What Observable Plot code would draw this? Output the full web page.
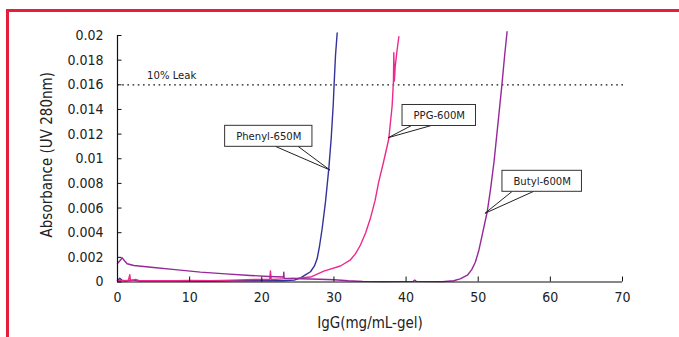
<!DOCTYPE html>
<html>
<head>
<meta charset="utf-8">
<script src="https://cdn.jsdelivr.net/npm/d3@7"></script>
<script src="https://cdn.jsdelivr.net/npm/@observablehq/plot@0.6"></script>
<style>
  html, body { margin: 0; padding: 0; background: #fff; }
  #wrap { position: relative; width: 679px; height: 337px; overflow: hidden; }
  #frame { position: absolute; left: 6px; top: 9px; width: 700px; height: 400px;
           border-top: 3px solid #e61e3c; border-left: 3px solid #e61e3c; box-sizing: border-box; pointer-events: none; }
  svg { display: block; }
</style>
</head>
<body>
<div id="wrap"><div id="frame"></div></div>
<script>
const FONT = '"Liberation Sans Narrow", "DejaVu Sans Condensed", "Roboto Condensed", sans-serif';

// ---- axes / tick labels ----
const xTicks = [0, 10, 20, 30, 40, 50, 60, 70];
const yTicks = [0, 0.002, 0.004, 0.006, 0.008, 0.01, 0.012, 0.014, 0.016, 0.018, 0.02];
const yTickLabels = ["0", "0.002", "0.004", "0.006", "0.008", "0.01", "0.012", "0.014", "0.016", "0.018", "0.02"];
const xTitle = "IgG(mg/mL-gel)";
const yTitle = "Absorbance (UV 280nm)";

// ---- 10% leak reference ----
const leakLevel = 0.016;
const leakLabel = ["10% Leak"];
const leakLabelX = [4.1];
const leakLabelY = [0.0168];

// ---- series: Phenyl-650M (blue) ----
const phenylX = [0, 0.3, 0.6, 1, 2, 3, 5, 8, 12, 16, 20, 23, 24.5, 25.37, 26.1, 26.75, 27.3, 27.68, 28.0, 28.37, 28.83, 29.29, 29.62, 29.9, 30.03, 30.22, 30.45];
const phenylY = [0.0001, 0.0003, 0.00015, 0.0001, 0.00015, 0.0001, 0.0001, 0.0001, 0.00005, 0.0001, 0.0001, 0.0001, 0.00015, 0.00034, 0.0006, 0.00083, 0.0013, 0.0019, 0.0029, 0.00434, 0.0065, 0.0092, 0.01164, 0.01434, 0.0161, 0.0184, 0.0202];

// ---- series: PPG-600M (pink) ----
const ppgX = [0, 1.5, 1.7, 1.8, 2.5, 3, 5, 8, 10, 13, 16, 19, 21.1, 21.2, 21.3, 23, 25, 26.75, 28.6, 30.9, 32.3, 33.0, 33.68, 34.4, 35.07, 35.7, 36.2, 36.9, 37.6, 38.07, 38.25, 38.3, 38.38, 38.5, 38.75, 39.0];
const ppgY = [0.0001, 0.0001, 0.0006, 0.0001, 0.0002, 0.0001, 0.0001, 0.0001, 0.00012, 0.0001, 0.00015, 0.0002, 0.0002, 0.0009, 0.0002, 0.00025, 0.0003, 0.0004, 0.00088, 0.0013, 0.0018, 0.0023, 0.003, 0.004, 0.0052, 0.0066, 0.0081, 0.0098, 0.0116, 0.0143, 0.0163, 0.0186, 0.0163, 0.0175, 0.0188, 0.0199];

// ---- series: Butyl-600M (purple) ----
const butylX = [0, 0.3, 0.65, 1.0, 1.34, 2.26, 5, 8, 11.5, 15, 18.4, 21, 23, 23.05, 23.1, 25.4, 28, 30, 32, 34, 37, 41, 41.2, 41.4, 45, 46.6, 47.5, 48.5, 49.1, 49.6, 50.1, 50.55, 51.25, 51.7, 52.2, 52.85, 53.3, 53.65, 54.0];
const butylY = [0.0015, 0.0017, 0.00196, 0.0017, 0.00148, 0.00134, 0.00118, 0.001, 0.0008, 0.00066, 0.00053, 0.00045, 0.0004, 0.0008, 0.0003, 0.00026, 0.00022, 0.00018, 0.0001, 0.00005, 0.00003, 0.00005, 0.00015, 0.00005, 0.00003, 0.0001, 0.00025, 0.00055, 0.001, 0.0016, 0.0026, 0.0038, 0.0057, 0.0075, 0.0098, 0.0135, 0.0161, 0.0183, 0.0203];

// ---- callouts ----
const calloutLabels = ["Phenyl-650M", "PPG-600M", "Butyl-600M"];
const calloutTextX = [20.97, 44.6, 58.87];
const calloutTextY = [0.01182, 0.01351, 0.00817];
const calloutPointX = [29.5, 37.6, 51.0];
const calloutPointY = [0.00905, 0.01167, 0.00553];

const seriesColors = ["#34339a", "#ec2a8c", "#96289a"];

const toRows = (xs, ys) => xs.map((x, i) => ({x, y: ys[i]}));
const callouts = calloutLabels.map((label, i) => ({label, x: calloutTextX[i], y: calloutTextY[i], px: calloutPointX[i], py: calloutPointY[i]}));

const W = 679, H = 337, ML = 117, MR = 57, MT = 35, MB = 55.5;
const plotW = W - ML - MR, plotH = H - MT - MB;

const chart = Plot.plot({
  width: W, height: H,
  marginLeft: ML, marginRight: MR, marginTop: MT, marginBottom: MB,
  style: {fontFamily: FONT, fontSize: "14px", color: "#222", background: "transparent", overflow: "visible"},
  x: {domain: [0, 70]},
  y: {domain: [0, 0.02]},
  marks: [
    Plot.ruleY([leakLevel], {x1: 0, x2: 70.4, stroke: "#111", strokeWidth: 1.3, strokeDasharray: "1.6,3.6"}),
    Plot.text(leakLabel, {x: (d, i) => leakLabelX[i], y: (d, i) => leakLabelY[i], text: d => d, textAnchor: "start", fontSize: 11.2, fill: "#222"}),
    Plot.line(toRows(phenylX, phenylY), {x: "x", y: "y", stroke: seriesColors[0], strokeWidth: 1.4}),
    Plot.line(toRows(ppgX, ppgY), {x: "x", y: "y", stroke: seriesColors[1], strokeWidth: 1.4}),
    Plot.line(toRows(butylX, butylY), {x: "x", y: "y", stroke: seriesColors[2], strokeWidth: 1.4}),
    Plot.ruleX([0], {stroke: "#111", strokeWidth: 1.2}),
    Plot.ruleY([0], {stroke: "#111", strokeWidth: 1.2}),
    Plot.ruleX(xTicks, {x: d => d, insetTop: plotH - 5, stroke: "#111", strokeWidth: 1}),
    Plot.ruleY(yTicks, {y: d => d, insetRight: plotW - 4.5, stroke: "#111", strokeWidth: 1}),
    Plot.axisX({ticks: xTicks, tickSize: 0, tickPadding: 10, tickFormat: d => String(d), label: null, fontSize: 14}),
    Plot.axisY({ticks: yTicks, tickSize: 0, tickPadding: 14, tickFormat: (d, i) => yTickLabels[i], label: null, fontSize: 14}),
    Plot.text([xTitle], {frameAnchor: "bottom", lineAnchor: "middle", textAnchor: "middle", dy: 41, text: d => d, fontSize: 15, fill: "#222"}),
    Plot.text([yTitle], {frameAnchor: "left", lineAnchor: "middle", textAnchor: "middle", dx: -70, dy: -4, rotate: -90, text: d => d, fontSize: 15, fill: "#222"}),
    Plot.text(callouts, {x: "x", y: "y", text: "label", fontSize: 11.2, fill: "#222"})
  ]
});

document.getElementById("wrap").insertBefore(chart, document.getElementById("frame"));

// draw callout boxes + pointers using Plot's scales
(function () {
  const sx = chart.scale("x"), sy = chart.scale("y");
  const svg = d3.select(chart);
  const allText = svg.selectAll("text").nodes();
  callouts.forEach((c) => {
    const t = allText.find(n => n.textContent === c.label);
    if (!t) return;
    const group = t.parentNode;
    const layer = d3.select(group.parentNode).insert("g", () => group);
    const w = t.getComputedTextLength() + 22;
    const h = 21;
    const cx = sx.apply(c.x), cy = sy.apply(c.y);
    const ax = sx.apply(c.px), ay = sy.apply(c.py);
    const left = cx - w / 2, bottom = cy + h / 2;
    const fr = ax > cx ? [0.58, 0.84] : [0.13, 0.40];
    fr.forEach(f => {
      layer.append("line").attr("x1", left + f * w).attr("y1", bottom).attr("x2", ax).attr("y2", ay)
        .attr("stroke", "#222").attr("stroke-width", 1);
    });
    layer.append("rect").attr("x", left).attr("y", cy - h / 2).attr("width", w).attr("height", h)
      .attr("fill", "#fff").attr("stroke", "#333").attr("stroke-width", 1);
  });
})();
</script>
</body>
</html>
